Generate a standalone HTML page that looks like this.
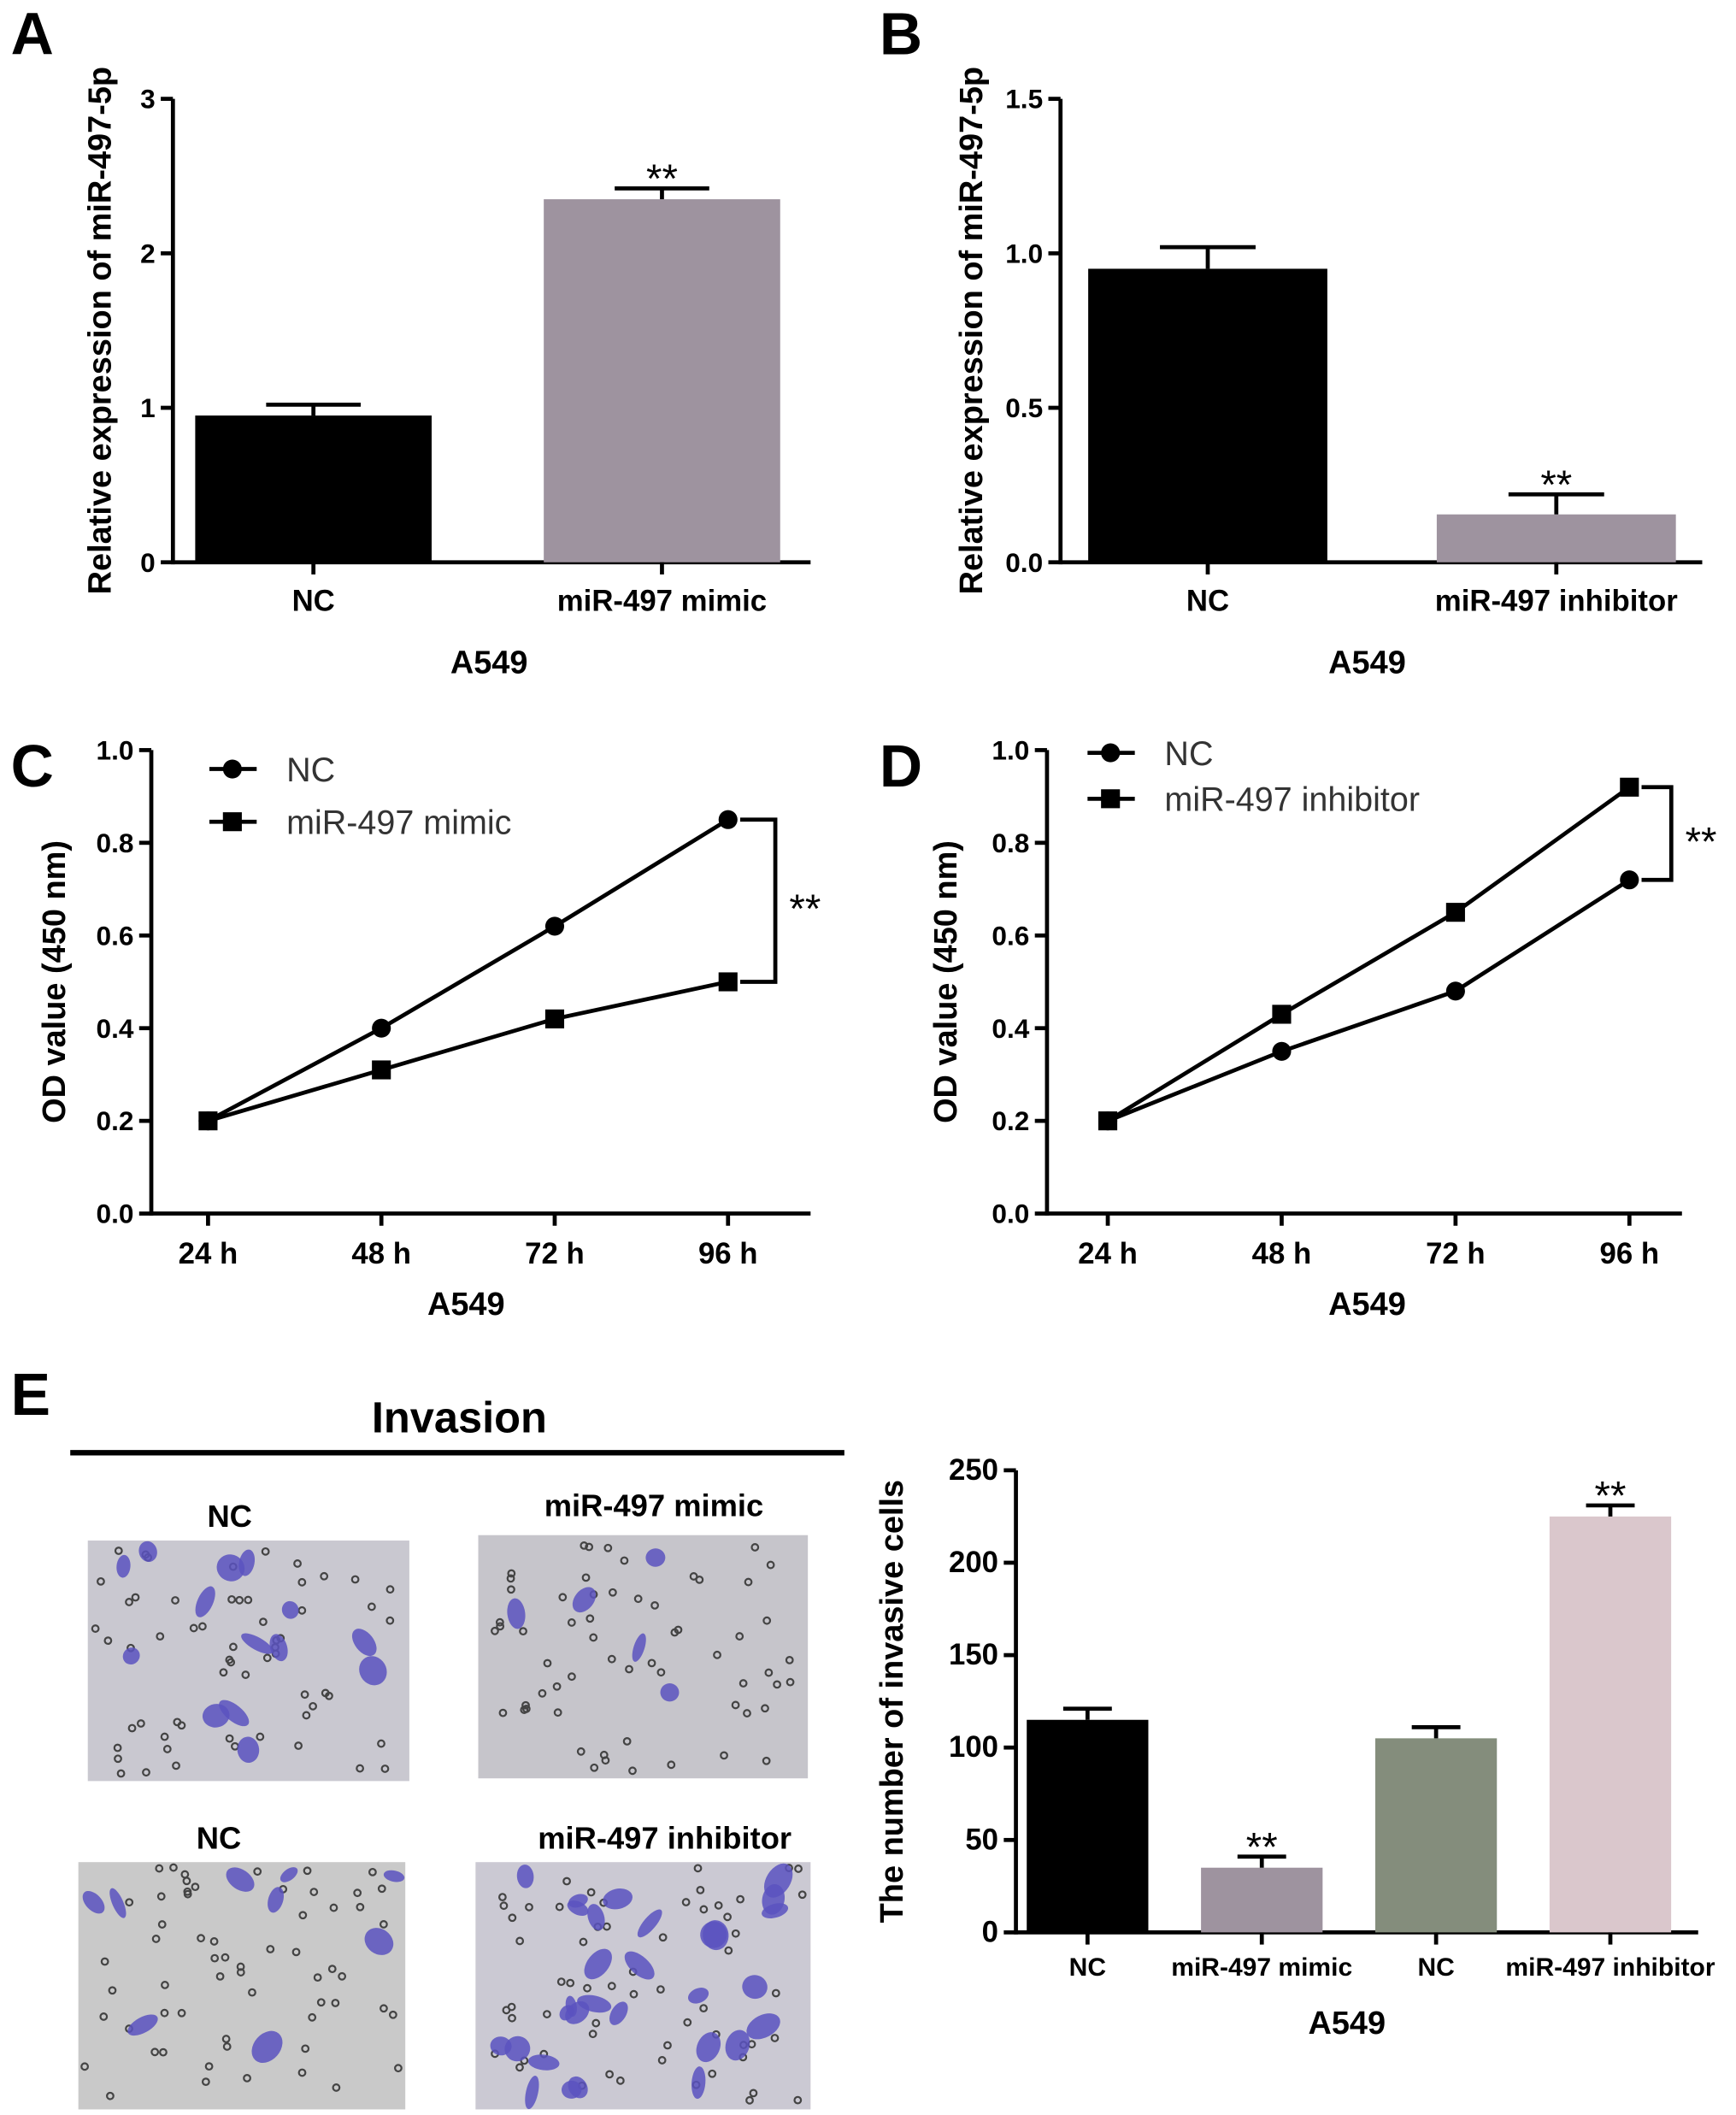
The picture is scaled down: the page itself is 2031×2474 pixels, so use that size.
<!DOCTYPE html>
<html><head><meta charset="utf-8"><style>
html,body{margin:0;padding:0;background:#fff;}
svg{display:block;font-family:"Liberation Sans",Arial,sans-serif;}
</style></head><body>
<svg id="fig" width="2031" height="2474" viewBox="0 0 1285 1565" xmlns="http://www.w3.org/2000/svg"></svg>
<script>
// Panel A data
const catsA = ["NC","miR-497 mimic"];
const valsA = [0.95, 2.35];
const errA = [0.07, 0.07];
const ticksA = [0,1,2,3];
// Panel B data
const catsB = ["NC","miR-497 inhibitor"];
const valsB = [0.95, 0.155];
const errB = [0.07, 0.065];
const ticksB = [0,0.5,1.0,1.5];
// Panel C/D data
const timeCats = ["24 h","48 h","72 h","96 h"];
const ncC = [0.2,0.4,0.62,0.85];
const mimicC = [0.2,0.31,0.42,0.5];
const ncD = [0.2,0.35,0.48,0.72];
const inhD = [0.2,0.43,0.65,0.92];
const ticksOD = [0,0.2,0.4,0.6,0.8,1.0];
// Panel E data
const catsE = ["NC","miR-497 mimic","NC","miR-497 inhibitor"];
const valsE = [115, 35, 105, 225];
const errE = [6, 6, 6, 6];
const ticksE = [0,50,100,150,200,250];

const svg = document.getElementById('fig');
const NS = 'http://www.w3.org/2000/svg';
function el(tag, attrs, parent){
  const e = document.createElementNS(NS, tag);
  for (const k in attrs) e.setAttribute(k, attrs[k]);
  (parent||svg).appendChild(e);
  return e;
}
function txt(s, x, y, size, opts){
  opts = opts||{};
  const t = el('text', {x:x, y:y, 'font-size':size, 'font-weight':opts.w||'bold', 'text-anchor':opts.a||'middle', fill:'#000'}, opts.p);
  if (opts.rot) t.setAttribute('transform', 'rotate(-90 '+x+' '+y+')');
  t.textContent = s;
  return t;
}
function fmt(v, d){ return d ? v.toFixed(d) : String(v); }

function barChart(cfg){
  const g = el('g', {});
  
  
  const y = v => cfg.y0 - (v - cfg.min)/(cfg.max-cfg.min)*(cfg.y0-cfg.y1);
  el('line', {x1:cfg.ax, y1:cfg.y1, x2:cfg.ax, y2:cfg.y0+1.5, stroke:'#000','stroke-width':3}, g);
  cfg.ticks.forEach(t=>{
    el('line', {x1:cfg.ax-9, y1:y(t), x2:cfg.ax, y2:y(t), stroke:'#000','stroke-width':3}, g);
    const l = txt(fmt(t,cfg.dec), cfg.ax-13, y(t)+7, cfg.tf||20, {a:'end', p:g});
    
    
  });
  el('line', {x1:cfg.ax, y1:cfg.y0, x2:cfg.xend, y2:cfg.y0, stroke:'#000','stroke-width':3}, g);
  cfg.vals.forEach((v,i)=>{
    const cx = cfg.x0c + i*cfg.step;
    const x0 = cx - cfg.bw/2;
    const r = el('rect', {x:x0, y:y(v), width:cfg.bw, height:cfg.y0-y(v), fill:cfg.colors[i]}, g);
    
    
    const e = y(v+cfg.err[i]);
    el('line', {x1:cx, y1:y(v), x2:cx, y2:e, stroke:'#000','stroke-width':3}, g);
    el('line', {x1:cx-cfg.bw*0.2, y1:e, x2:cx+cfg.bw*0.2, y2:e, stroke:'#000','stroke-width':3}, g);
    el('line', {x1:cx, y1:cfg.y0, x2:cx, y2:cfg.y0+9, stroke:'#000','stroke-width':3}, g);
    const l = txt(cfg.cats[i], cx, cfg.y0+cfg.lo, cfg.cf||22, {p:g});
    
    
    if (cfg.stars[i]) txt('**', cx, e+3, 30, {w:'normal', p:g});
  });
  txt(cfg.ytitle, cfg.ytx, (cfg.y0+cfg.y1)/2, cfg.ytf||24, {rot:true, p:g});
  txt('A549', cfg.a549x, cfg.a549y, 24, {p:g});
}

barChart({name:'panel-a-chart', ax:128, y0:416, y1:73, min:0, max:3, xend:600, x0c:232, step:258, bw:175,
  cats:catsA, vals:valsA, err:errA, ticks:ticksA, colors:['#000','#9e939f'], stars:[0,1],
  ytitle:'Relative expression of miR-497-5p', ytx:82, a549x:362, a549y:498, lo:36});
barChart({name:'panel-b-chart', ax:785, y0:416, y1:73, min:0, max:1.5, xend:1260, x0c:894, step:258, bw:177, dec:1,
  cats:catsB, vals:valsB, err:errB, ticks:ticksB, colors:['#000','#9e939f'], stars:[0,1],
  ytitle:'Relative expression of miR-497-5p', ytx:727, a549x:1012, a549y:498, lo:36});
barChart({name:'panel-e-chart', ax:752, y0:1430, y1:1088, min:0, max:250, xend:1257, x0c:805, step:129, bw:90, tf:22,
  cats:catsE, vals:valsE, err:errE, ticks:ticksE, colors:['#000','#9e939f','#848d7c','#dac7cc'], stars:[0,1,0,1],
  ytitle:'The number of invasive cells', ytx:668, a549x:997, a549y:1505, lo:32, cf:19});

function lineChart(cfg){
  const g = el('g', {});
  
  
  const y = v => cfg.y0 - v/1.0*(cfg.y0-cfg.y1);
  const x = i => cfg.xs + i*cfg.dx;
  el('line', {x1:cfg.ax, y1:cfg.y1, x2:cfg.ax, y2:cfg.y0+1.5, stroke:'#000','stroke-width':3}, g);
  el('line', {x1:cfg.ax, y1:cfg.y0, x2:cfg.xend, y2:cfg.y0, stroke:'#000','stroke-width':3}, g);
  ticksOD.forEach(t=>{
    el('line', {x1:cfg.ax-9, y1:y(t), x2:cfg.ax, y2:y(t), stroke:'#000','stroke-width':3}, g);
    txt(t.toFixed(1), cfg.ax-13, y(t)+7, 20, {a:'end', p:g});
  });
  timeCats.forEach((c,i)=>{
    el('line', {x1:x(i), y1:cfg.y0, x2:x(i), y2:cfg.y0+9, stroke:'#000','stroke-width':3}, g);
    txt(c, x(i), cfg.y0+37, 22, {p:g});
  });
  [[cfg.s1,'circle'],[cfg.s2,'square']].forEach(([s,m],k)=>{
    const pts = s.map((v,i)=>x(i)+','+y(v)).join(' ');
    const pl = el('polyline', {points:pts, fill:'none', stroke:'#000','stroke-width':3}, g);
    
    
    s.forEach((v,i)=>{
      if (m==='circle') el('circle', {cx:x(i), cy:y(v), r:7, fill:'#000'}, g);
      else el('rect', {x:x(i)-7, y:y(v)-7, width:14, height:14, fill:'#000'}, g);
    });
    const ly = cfg.legY[k];
    el('line', {x1:cfg.legX, y1:ly, x2:cfg.legX+35, y2:ly, stroke:'#000','stroke-width':3}, g);
    if (m==='circle') el('circle', {cx:cfg.legX+17, cy:ly, r:7, fill:'#000'}, g);
    else el('rect', {x:cfg.legX+10, y:ly-7, width:14, height:14, fill:'#000'}, g);
    const lt = txt(cfg.labels[k], cfg.legX+57, ly+9, 25, {a:'start', w:'normal', p:g});
    lt.setAttribute('fill','#333');
    
    
  });
  const top = y(Math.max(cfg.s1[3],cfg.s2[3])), bot = y(Math.min(cfg.s1[3],cfg.s2[3]));
  const bx = x(3)+cfg.bo;
  el('polyline', {points:bx+','+top+' '+(bx+cfg.bw)+','+top+' '+(bx+cfg.bw)+','+bot+' '+bx+','+bot, fill:'none', stroke:'#000','stroke-width':3}, g);
  txt('**', bx+cfg.bw+22, (top+bot)/2+16, 30, {w:'normal', p:g});
  txt('OD value (450 nm)', cfg.ytx, (cfg.y0+cfg.y1)/2, 24, {rot:true, p:g});
  txt('A549', cfg.a549x, cfg.y0+75, 24, {p:g});
}
lineChart({name:'panel-c-chart', ax:112, y0:898, y1:555, xend:600, xs:154, dx:128.3, s1:ncC, s2:mimicC,
  labels:['NC','miR-497 mimic'], legX:155, legY:[569,608], bo:9, bw:26, ytx:48, a549x:345});
lineChart({name:'panel-d-chart', ax:775, y0:898, y1:555, xend:1245, xs:820, dx:128.7, s1:ncD, s2:inhD,
  labels:['NC','miR-497 inhibitor'], legX:805, legY:[557,591], bo:9, bw:22, ytx:708, a549x:1012});

[['A',8,40],['B',651,40],['C',8,582],['D',651,582],['E',8,1047]].forEach(([s,x,yy])=>{
  const t = txt(s, x, yy, 44, {a:'start'});
  
  
});

const inv = txt('Invasion', 340, 1060, 32);


el('line', {x1:52, y1:1075, x2:625, y2:1075, stroke:'#000','stroke-width':4});

const photos = [
  {x:65,y:1140,w:238,h:178,label:'NC',lx:170,ly:1130,cells:14,bg:'#c9c8d0'},
  {x:354,y:1136,w:244,h:180,label:'miR-497 mimic',lx:484,ly:1122,cells:5,bg:'#c6c5cb'},
  {x:58,y:1378,w:242,h:183,label:'NC',lx:162,ly:1368,cells:9,bg:'#c9c9c9'},
  {x:352,y:1378,w:248,h:183,label:'miR-497 inhibitor',lx:492,ly:1368,cells:30,bg:'#cbc9d3'}
];
let seed = 7;
function rnd(){ seed = (seed*9301+49297)%233280; return seed/233280; }
photos.forEach((p,idx)=>{
  const lt = txt(p.label, p.lx, p.ly, 23);
  
  
  const g = el('g', {});
  
  
  el('rect', {x:p.x, y:p.y, width:p.w, height:p.h, fill:p.bg}, g);
  for (let i=0;i<60;i++){
    el('circle', {cx:p.x+4+rnd()*(p.w-8), cy:p.y+4+rnd()*(p.h-8), r:2.4, fill:'none', stroke:'#444','stroke-width':1.4}, g);
  }
  for (let i=0;i<p.cells;i++){
    const cx = p.x+8+rnd()*(p.w-16), cy = p.y+8+rnd()*(p.h-16);
    el('ellipse', {cx:cx, cy:cy, rx:4+rnd()*6, ry:6+rnd()*8, transform:'rotate('+(rnd()*180)+' '+cx+' '+cy+')', fill:'#5a52bf', opacity:0.85}, g);
  }
});
</script>
</body></html>
